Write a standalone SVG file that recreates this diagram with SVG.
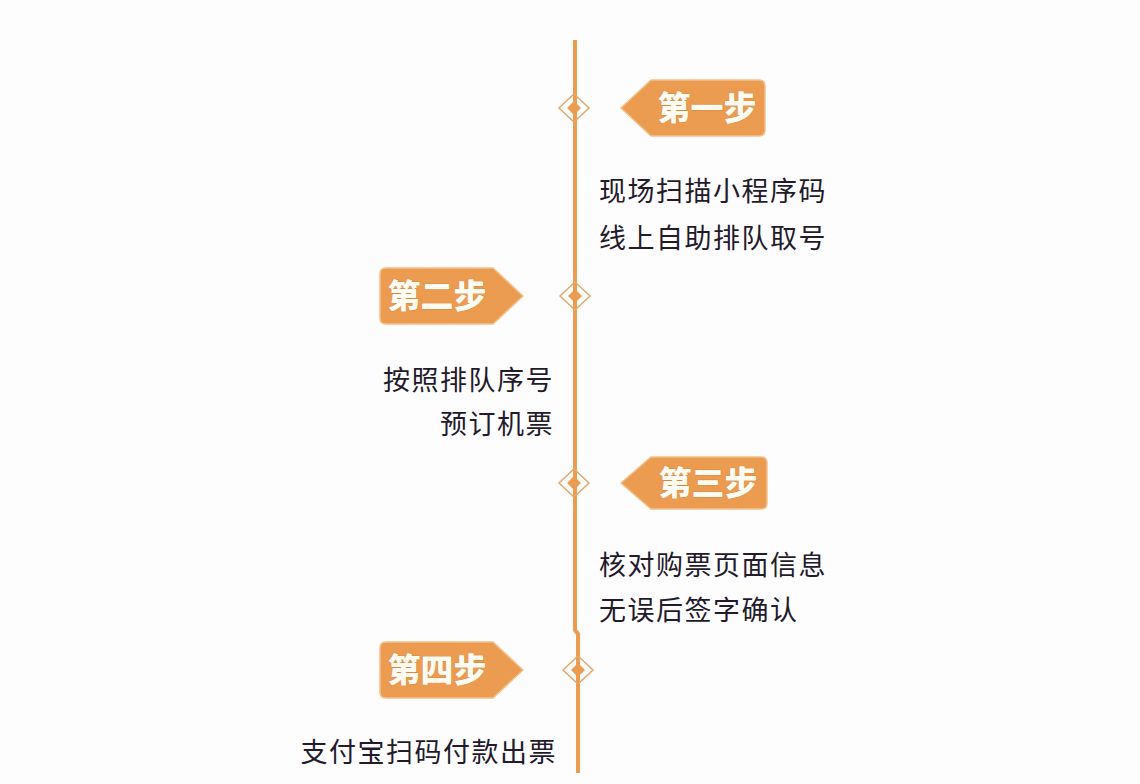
<svg xmlns="http://www.w3.org/2000/svg" width="1140" height="784" viewBox="0 0 1140 784">
<defs>
<style>
.tag{fill:#eb9c50;stroke:#f4c08a;stroke-width:1.5}
.tt{font-family:"Noto Sans CJK SC","Noto Sans CJK JP",sans-serif;font-weight:900;font-size:33px;fill:#fffaf2;text-anchor:middle;stroke:#c97a33;stroke-width:0.6;paint-order:stroke}
.bt{font-family:"Noto Sans CJK SC","Noto Sans CJK JP",sans-serif;font-size:27px;fill:#231a2a;letter-spacing:1.5px}
.dm{fill:none;stroke:#e3a86e;stroke-width:1.5}
.dd{fill:#eb9c50}
.ln{stroke:#eb9c50;stroke-width:4;fill:none}
</style>
</defs>
<rect width="1140" height="784" fill="#fdfdfe"/>
<g id="connectors">
<path class="ln" d="M575 40 V630 L578 634 V773"/>
</g>
<g id="m1"><path class="dm" d="M574 94 L589 108 L574 122 L559 108 Z"/><path class="dd" d="M574 101 L581 108 L574 115 L567 108 Z"/></g>
<g id="m2"><path class="dm" d="M575 282 L590 296 L575 310 L560 296 Z"/><path class="dd" d="M575 289 L582 296 L575 303 L568 296 Z"/></g>
<g id="m3"><path class="dm" d="M574 469 L589 483 L574 497 L559 483 Z"/><path class="dd" d="M574 476 L581 483 L574 490 L567 483 Z"/></g>
<g id="m4"><path class="dm" d="M578 656 L593 670 L578 684 L563 670 Z"/><path class="dd" d="M578 663 L585 670 L578 677 L571 670 Z"/></g>
<g id="step1">
<path class="tag" d="M621 108 L651 80 H759 Q765 80 765 86 V130 Q765 136 759 136 H651 Z"/>
<text class="tt" x="707" y="120">第一步</text>
<text class="bt" x="599" y="201">现场扫描小程序码</text>
<text class="bt" x="599" y="248">线上自助排队取号</text>
</g>
<g id="step2">
<path class="tag" d="M523 296 L493 268 H386 Q380 268 380 274 V318 Q380 324 386 324 H493 Z"/>
<text class="tt" x="437" y="308">第二步</text>
<text class="bt" x="554" y="390" text-anchor="end">按照排队序号</text>
<text class="bt" x="554" y="434" text-anchor="end">预订机票</text>
</g>
<g id="step3">
<path class="tag" d="M621 483 L651 457 H761 Q767 457 767 463 V503 Q767 509 761 509 H651 Z"/>
<text class="tt" x="708" y="495">第三步</text>
<text class="bt" x="599" y="575">核对购票页面信息</text>
<text class="bt" x="599" y="620">无误后签字确认</text>
</g>
<g id="step4">
<path class="tag" d="M523 670 L493 642 H386 Q380 642 380 648 V692 Q380 698 386 698 H493 Z"/>
<text class="tt" x="437" y="682">第四步</text>
<text class="bt" x="557" y="762" text-anchor="end">支付宝扫码付款出票</text>
</g>
</svg>
